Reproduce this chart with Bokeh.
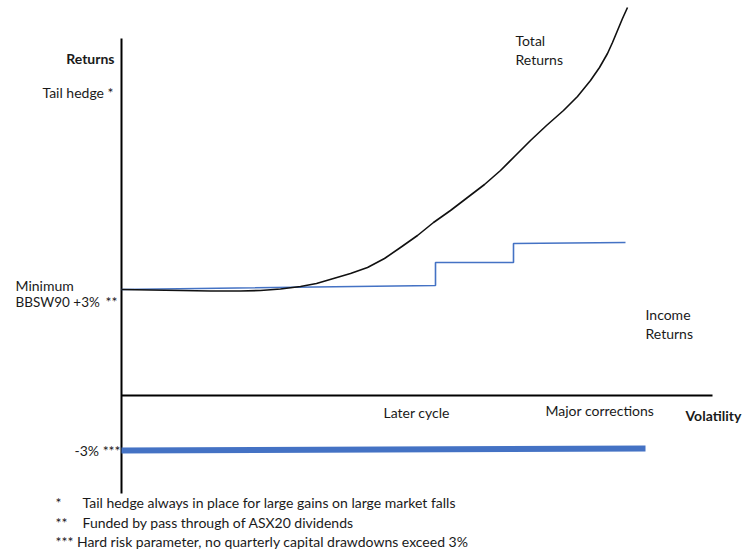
from bokeh.plotting import figure
from bokeh.models import Range1d
from bokeh.core.properties import value
from bokeh.embed import file_html
from bokeh.resources import INLINE

# ---- data (volatility units on x, return units on y; origin at axes cross) ----
total_x = [0, 29, 59, 89, 119, 139, 159, 179, 195, 212, 229, 246, 263, 279, 296, 312,
           329, 346, 363, 379, 394, 409, 425, 442, 456, 469, 478, 486, 491, 496, 501, 506]
total_y = [106, 105.5, 105, 104.5, 104.5, 105, 106.5, 109, 112, 117, 122, 128, 137, 148,
           160, 173, 185, 198, 211, 225, 240, 255, 270, 285, 299, 315, 328, 342, 353, 365,
           377, 388]

income_x = [0, 314, 314, 392, 392, 504]
income_y = [106, 110, 133, 133, 152, 153]

floor_x = [0, 524]
floor_y = [-55, -53]

footnotes = [
    ("*", "Tail hedge always in place for large gains on large market falls"),
    ("**", "Funded by pass through of ASX20 dividends"),
    ("***", "Hard risk parameter, no quarterly capital drawdowns exceed 3%"),
]

FONT = value("Lato")
TXT = "#1a1a1a"
BLUE = "#4472C4"

p = figure(width=742, height=549, output_backend="svg", toolbar_location=None,
           x_range=Range1d(-121, 621), y_range=Range1d(-154, 395), min_border=0)
p.xaxis.visible = False
p.yaxis.visible = False
p.xgrid.visible = False
p.ygrid.visible = False
p.outline_line_color = None
p.background_fill_color = "white"

# axes
p.line([0, 0], [357, -98], line_color="black", line_width=2)
p.line([0, 591], [0, 0], line_color="black", line_width=2)

# series
p.line(floor_x, floor_y, line_color=BLUE, line_width=6)
p.line(income_x, income_y, line_color=BLUE, line_width=1.6)
p.line(total_x, total_y, line_color="#111111", line_width=1.6, line_join="round")

def label(x, y, t, align="left", bold=False, size="14px"):
    p.text(x=[x], y=[y], text=[t], text_align=align, text_baseline="middle",
           text_font=FONT, text_font_size=size, text_color=TXT,
           text_font_style="bold" if bold else "normal")

label(-7, 337, "Returns", align="right", bold=True)
label(-8, 303, "Tail hedge *", align="right")
label(-106, 110, "Minimum")
label(-106, 94, "BBSW90 +3%", size="13.5px")
label(-4, 94, "**", align="right")
label(-1, -55, "-3% ***", align="right")
label(262, -17, "Later cycle")
label(424, -15, "Major corrections")
label(564, -20, "Volatility", bold=True)
label(394, 355, "Total")
label(394, 336, "Returns")
label(524, 81, "Income")
label(524, 62, "Returns")

fy = [-107, -127, -146]
for (mark, txt), y in zip(footnotes, fy):
    if mark == "***":
        label(-66, y, mark + " " + txt)
    else:
        label(-66, y, mark)
        label(-39, y, txt)

open("out.html", "w").write(file_html(p, INLINE))
